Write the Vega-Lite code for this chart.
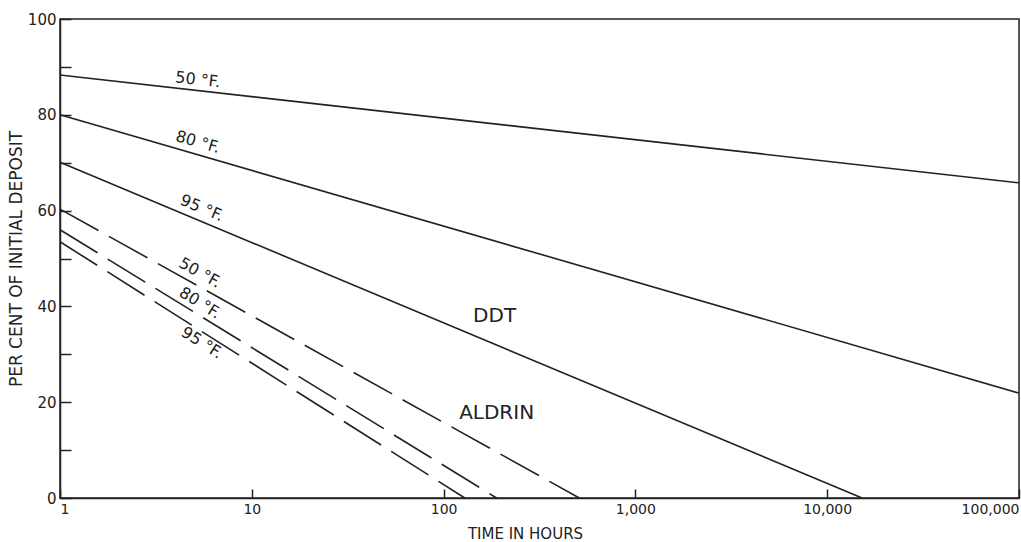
{
  "$schema": "https://vega.github.io/schema/vega-lite/v6.json",
  "width": 959,
  "height": 479,
  "autosize": "none",
  "padding": {"left": 60, "top": 19, "right": 2, "bottom": 44},
  "background": "white",
  "config": {
    "view": {"stroke": "#222", "strokeWidth": 1.5},
    "font": "DejaVu Sans",
    "axis": {"domainColor": "#222", "domainWidth": 1.5, "tickColor": "#222", "tickWidth": 1.5, "labelColor": "#222", "titleColor": "#222", "grid": false, "labelFont": "DejaVu Sans", "titleFont": "DejaVu Sans", "titleFontWeight": "normal"}
  },
  "datasets": {
    "lines": [
      {"series": "DDT 50", "compound": "DDT", "hours": 1, "pct": 88.3},
      {"series": "DDT 50", "compound": "DDT", "hours": 100000, "pct": 65.8},
      {"series": "DDT 80", "compound": "DDT", "hours": 1, "pct": 80},
      {"series": "DDT 80", "compound": "DDT", "hours": 100000, "pct": 21.9},
      {"series": "DDT 95", "compound": "DDT", "hours": 1, "pct": 70.1},
      {"series": "DDT 95", "compound": "DDT", "hours": 15200, "pct": 0},
      {"series": "ALDRIN 50", "compound": "ALDRIN", "hours": 1, "pct": 60.3},
      {"series": "ALDRIN 50", "compound": "ALDRIN", "hours": 510, "pct": 0},
      {"series": "ALDRIN 80", "compound": "ALDRIN", "hours": 1, "pct": 56},
      {"series": "ALDRIN 80", "compound": "ALDRIN", "hours": 189, "pct": 0},
      {"series": "ALDRIN 95", "compound": "ALDRIN", "hours": 1, "pct": 53.5},
      {"series": "ALDRIN 95", "compound": "ALDRIN", "hours": 129, "pct": 0}
    ],
    "labels": [
      {"key": "d50", "text": "50 °F.", "hours": 5.23, "pct": 87.3},
      {"key": "d80", "text": "80 °F.", "hours": 5.23, "pct": 74.3},
      {"key": "d95", "text": "95 °F.", "hours": 5.49, "pct": 60.5},
      {"key": "a50", "text": "50 °F.", "hours": 5.36, "pct": 47},
      {"key": "a80", "text": "80 °F.", "hours": 5.36, "pct": 40.7},
      {"key": "a95", "text": "95 °F.", "hours": 5.49, "pct": 32.4},
      {"key": "name", "text": "DDT", "hours": 184.5, "pct": 38},
      {"key": "name", "text": "ALDRIN", "hours": 189, "pct": 17.7}
    ]
  },
  "encoding": {
    "x": {
      "field": "hours", "type": "quantitative",
      "scale": {"type": "log", "domain": [1, 100000], "nice": false},
      "axis": {"values": [1, 10, 100, 1000, 10000, 100000], "format": ",", "tickSize": -9, "labelPadding": 13, "labelFontSize": 14, "labelFlush": true, "title": "TIME IN HOURS", "titleFontSize": 15, "titlePadding": 10, "titleX": 465}
    },
    "y": {
      "field": "pct", "type": "quantitative",
      "scale": {"domain": [0, 100], "nice": false, "zero": true},
      "axis": {"values": [0, 10, 20, 30, 40, 50, 60, 70, 80, 90, 100], "labelExpr": "datum.value % 20 == 0 ? datum.label : ''", "tickSize": -11, "labelPadding": 15, "labelFontSize": 15, "title": "PER CENT OF INITIAL DEPOSIT", "titleFontSize": 17, "titlePadding": 2}
    }
  },
  "layer": [
    {
      "data": {"name": "lines"},
      "transform": [{"filter": "datum.compound == 'DDT'"}],
      "mark": {"type": "line", "color": "#222", "strokeWidth": 1.6},
      "encoding": {"detail": {"field": "series"}}
    },
    {
      "data": {"name": "lines"},
      "transform": [{"filter": "datum.compound == 'ALDRIN'"}],
      "mark": {"type": "line", "color": "#222", "strokeWidth": 1.6, "strokeDash": [44, 12]},
      "encoding": {"detail": {"field": "series"}}
    },
    {
      "data": {"name": "labels"},
      "transform": [{"filter": "datum.key == 'd50'"}],
      "mark": {"type": "text", "color": "#222", "fontSize": 16, "angle": 6.4},
      "encoding": {"text": {"field": "text"}}
    },
    {
      "data": {"name": "labels"},
      "transform": [{"filter": "datum.key == 'd80'"}],
      "mark": {"type": "text", "color": "#222", "fontSize": 16, "angle": 16},
      "encoding": {"text": {"field": "text"}}
    },
    {
      "data": {"name": "labels"},
      "transform": [{"filter": "datum.key == 'd95'"}],
      "mark": {"type": "text", "color": "#222", "fontSize": 16, "angle": 22.7},
      "encoding": {"text": {"field": "text"}}
    },
    {
      "data": {"name": "labels"},
      "transform": [{"filter": "datum.key == 'a50'"}],
      "mark": {"type": "text", "color": "#222", "fontSize": 16, "angle": 29},
      "encoding": {"text": {"field": "text"}}
    },
    {
      "data": {"name": "labels"},
      "transform": [{"filter": "datum.key == 'a80'"}],
      "mark": {"type": "text", "color": "#222", "fontSize": 16, "angle": 31.5},
      "encoding": {"text": {"field": "text"}}
    },
    {
      "data": {"name": "labels"},
      "transform": [{"filter": "datum.key == 'a95'"}],
      "mark": {"type": "text", "color": "#222", "fontSize": 16, "angle": 32.3},
      "encoding": {"text": {"field": "text"}}
    },
    {
      "data": {"name": "labels"},
      "transform": [{"filter": "datum.key == 'name'"}],
      "mark": {"type": "text", "color": "#222", "fontSize": 20},
      "encoding": {"text": {"field": "text"}}
    }
  ]
}
